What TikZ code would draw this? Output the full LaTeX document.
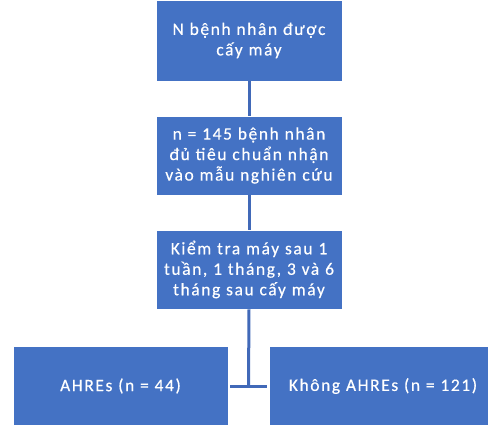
\documentclass[tikz,border=0pt]{standalone}
\usepackage{fontspec}
\setmainfont{Carlito}[LetterSpace=9,FakeBold=0.4]
\definecolor{boxblue}{HTML}{4472C4}
\definecolor{lineblue}{HTML}{4169B8}
\begin{document}
\begin{tikzpicture}[x=1pt,y=1pt,
  box/.style={draw=white,line width=0.8pt,fill=boxblue,text=white,inner sep=0pt,
    font=\fontsize{17.5}{20.5}\selectfont,align=center,text width=184pt},
  conn/.style={draw=lineblue,line width=3pt}]
\useasboundingbox (0,0) rectangle (488,424);
\node[box,minimum width=186pt,minimum height=81pt] (n1) at (249,383.5) {N bệnh nhân được\\cấy máy};
\node[box,minimum width=186pt,minimum height=79pt] (n2) at (249,268.5) {n = 145 bệnh nhân\\đủ tiêu chuẩn nhận\\vào mẫu nghiên cứu};
\node[box,minimum width=186pt,minimum height=79pt] (n3) at (249,154.5) {Kiểm tra máy sau 1\\tuần, 1 tháng, 3 và 6\\tháng sau cấy máy};
\node[box,minimum width=215pt,minimum height=79pt,text width=210pt] (l) at (120.5,38) {AHREs (n = 44)};
\node[box,minimum width=228pt,minimum height=79pt,text width=224pt] (r) at (383,38) {Không AHREs (n = 121)};
\coordinate (j) at (248.5,38);
\draw[conn] (n1.south) -- (n2.north);
\draw[conn] (n2.south) -- (n3.north);
\draw[conn] (n3.south) -- (j);
\draw[conn,shorten <=2pt,shorten >=2pt] (l.east) -- (r.west);
\end{tikzpicture}
\end{document}
